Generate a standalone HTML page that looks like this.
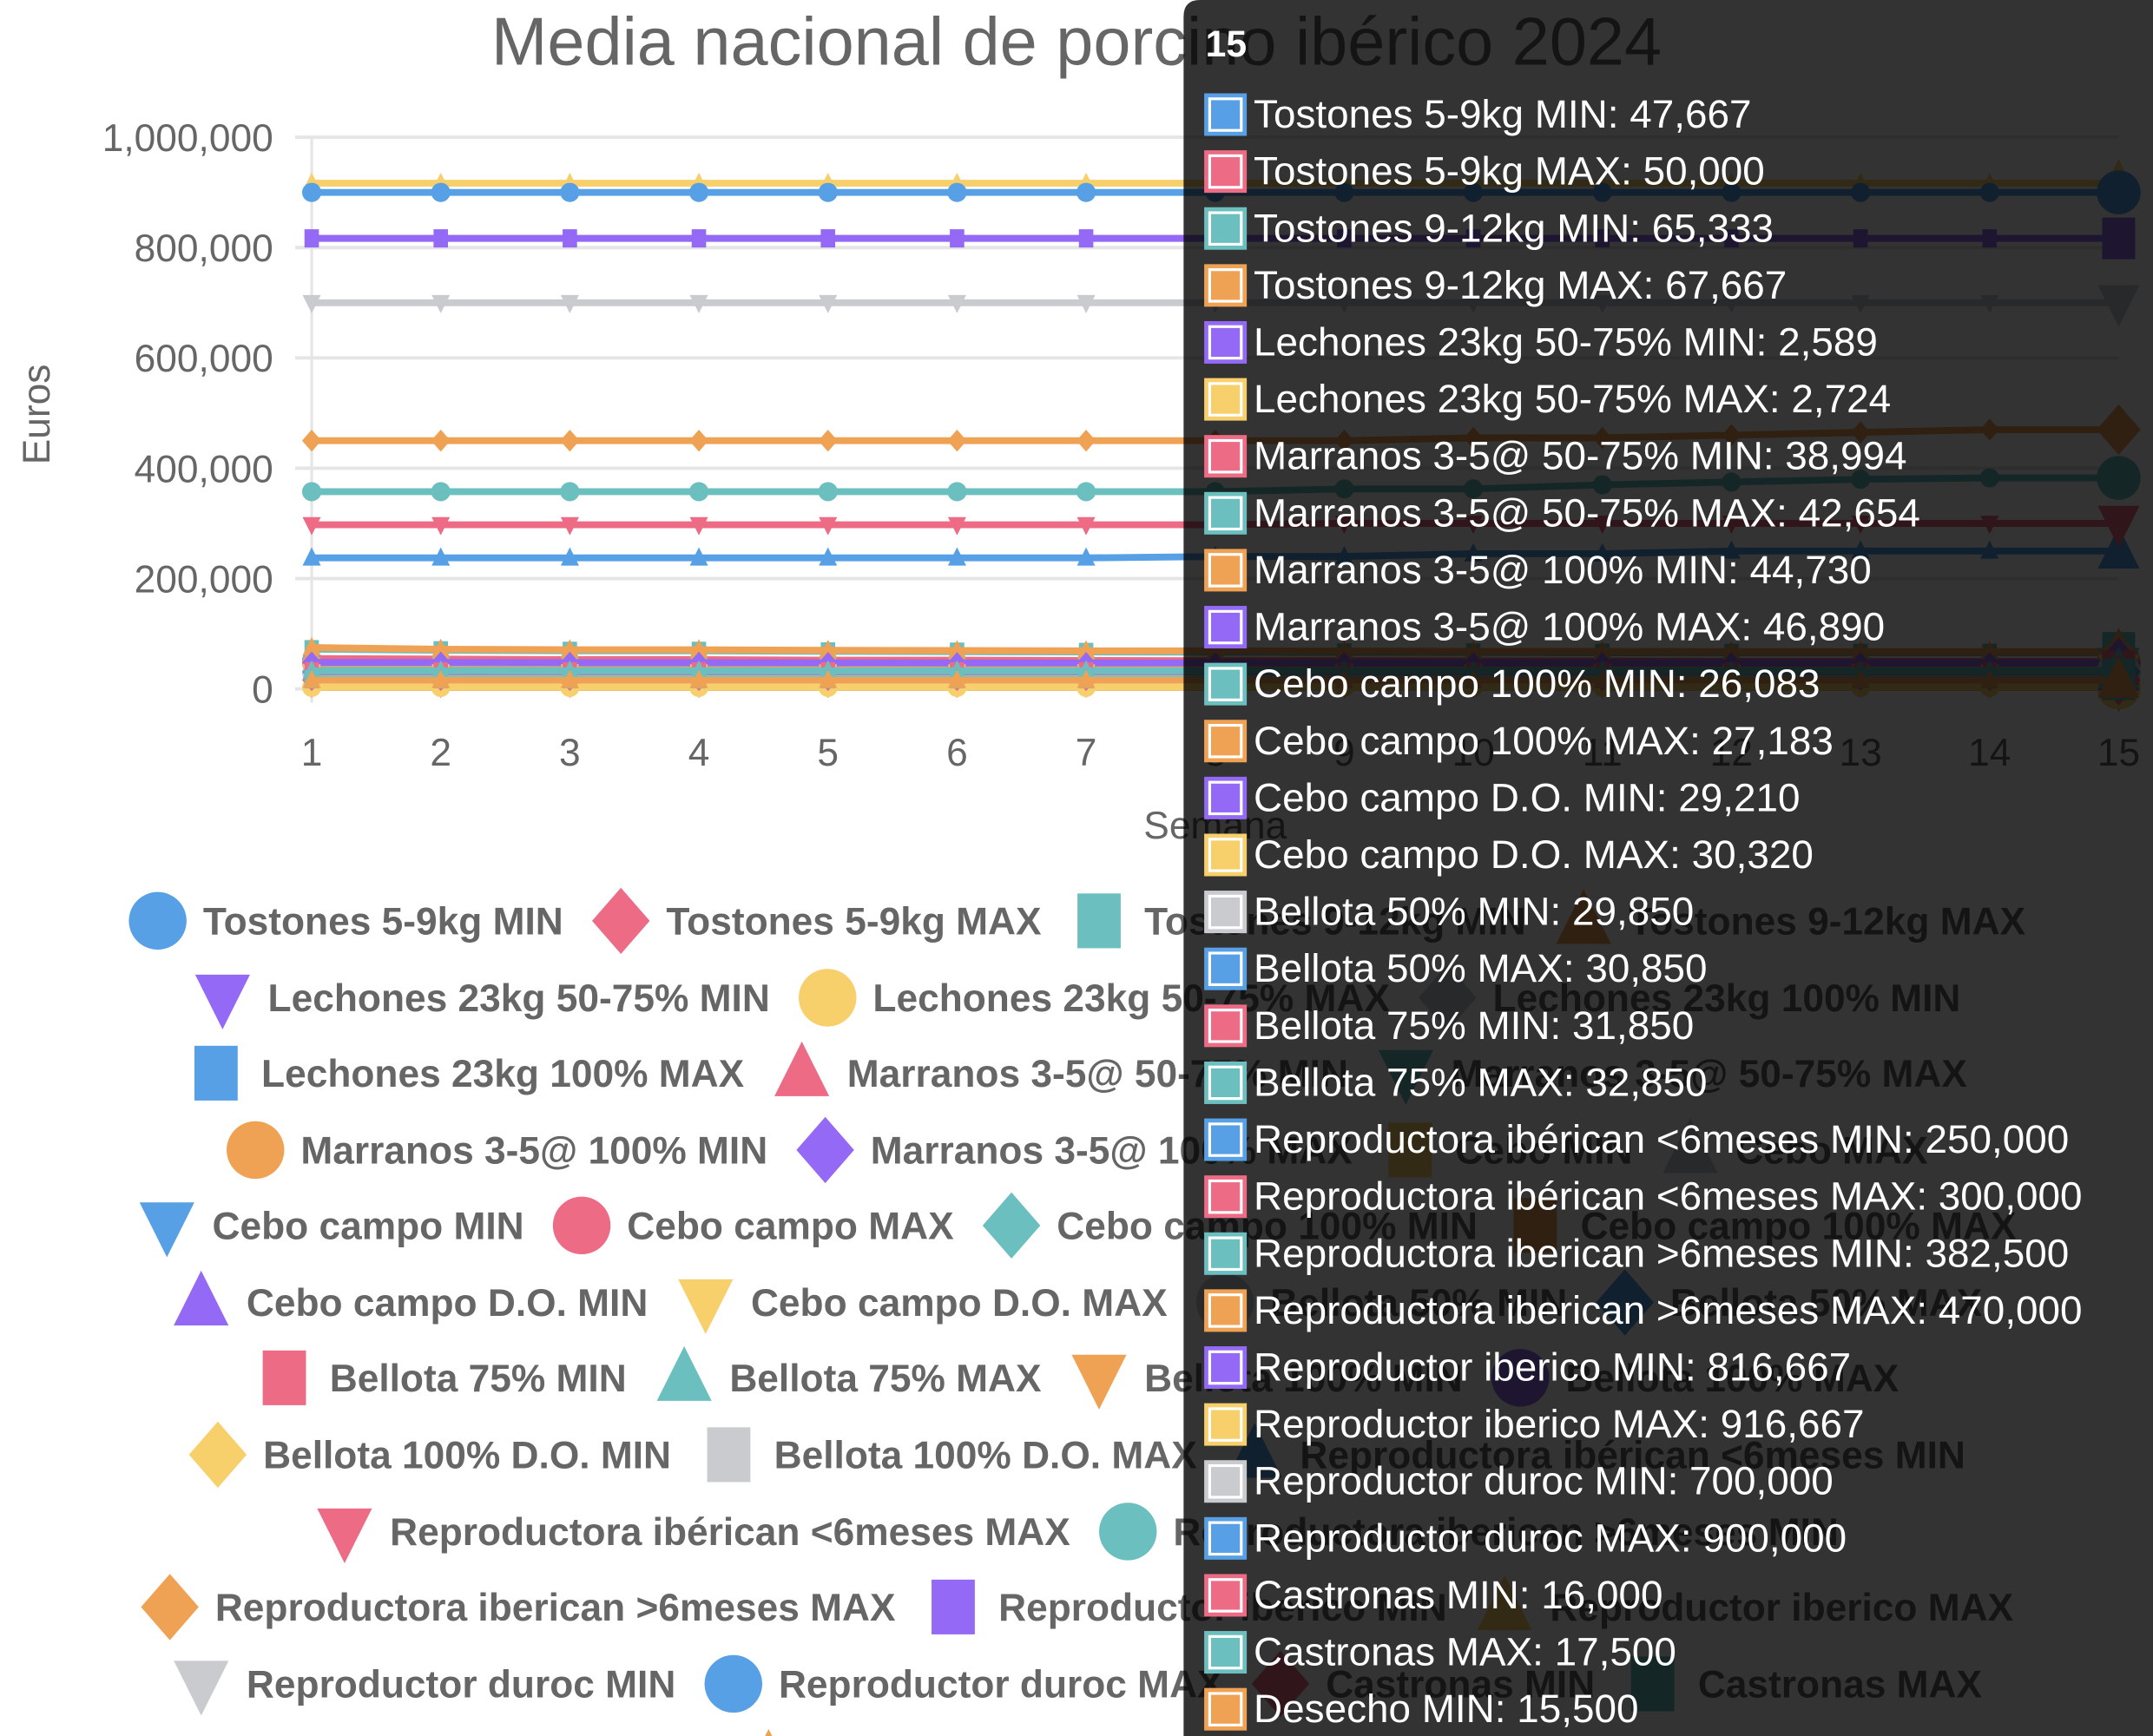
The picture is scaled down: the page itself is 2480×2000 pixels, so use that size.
<!DOCTYPE html>
<html><head><meta charset="utf-8">
<style>
html,body{margin:0;padding:0;background:#fff;}
svg{display:block;font-family:"Liberation Sans",Arial,sans-serif;}
</style></head>
<body>
<svg id="chart" width="2480" height="2000" viewBox="0 0 1568 1265" preserveAspectRatio="none" xmlns="http://www.w3.org/2000/svg">
<rect x="0" y="0" width="1568" height="1265" fill="#fff"/>
<text x="784" y="47" text-anchor="middle" font-size="49" fill="#666">Media nacional de porcino ibérico 2024</text>
<text transform="translate(36,302) rotate(-90)" text-anchor="middle" font-size="28" fill="#666">Euros</text>
<text x="885" y="611" text-anchor="middle" font-size="28" fill="#666">Semana</text>
<g id="grid"></g><g id="series"></g><g id="legend"></g><g id="tooltip"></g>
</svg>
<script>
const weeks = [1,2,3,4,5,6,7,8,9,10,11,12,13,14,15];
const yTicks = [0,200000,400000,600000,800000,1000000];
const yTickLabels = ["0","200,000","400,000","600,000","800,000","1,000,000"];
const seriesNames = ["Tostones 5-9kg MIN","Tostones 5-9kg MAX","Tostones 9-12kg MIN","Tostones 9-12kg MAX","Lechones 23kg 50-75% MIN","Lechones 23kg 50-75% MAX","Lechones 23kg 100% MIN","Lechones 23kg 100% MAX","Marranos 3-5@ 50-75% MIN","Marranos 3-5@ 50-75% MAX","Marranos 3-5@ 100% MIN","Marranos 3-5@ 100% MAX","Cebo MIN","Cebo MAX","Cebo campo MIN","Cebo campo MAX","Cebo campo 100% MIN","Cebo campo 100% MAX","Cebo campo D.O. MIN","Cebo campo D.O. MAX","Bellota 50% MIN","Bellota 50% MAX","Bellota 75% MIN","Bellota 75% MAX","Bellota 100% MIN","Bellota 100% MAX","Bellota 100% D.O. MIN","Bellota 100% D.O. MAX","Reproductora ibérican  <6meses MIN","Reproductora ibérican  <6meses MAX","Reproductora iberican  >6meses MIN","Reproductora iberican  >6meses MAX","Reproductor iberico MIN","Reproductor iberico MAX","Reproductor duroc MIN","Reproductor duroc MAX","Castronas MIN","Castronas MAX","Desecho MIN","Desecho MAX"];
const s00=[52000,51000,50000,50000,49500,49000,49000,48500,48500,48000,48000,47667,47667,47667,47667];
const s01=[55000,54000,53000,53000,52000,52000,51500,51000,51000,50500,50500,50000,50000,50000,50000];
const s02=[72000,70000,69000,69000,68000,67500,67000,66500,66000,66000,65500,65333,65333,65333,65333];
const s03=[75000,72000,71000,71000,70000,69500,69000,69000,68500,68000,68000,67667,67667,67667,67667];
const s04=[2600,2600,2600,2600,2600,2600,2600,2600,2600,2589,2589,2589,2589,2589,2589];
const s05=[2750,2750,2750,2750,2730,2730,2730,2730,2724,2724,2724,2724,2724,2724,2724];
const s06=[null,null,null,null,null,null,null,null,null,null,null,null,null,null,null];
const s07=[null,null,null,null,null,null,null,null,null,null,null,null,null,null,null];
const s08=[40000,40000,39500,39500,39500,39000,39000,39000,39000,38994,38994,38994,38994,38994,38994];
const s09=[44000,44000,43500,43500,43000,43000,43000,42800,42700,42654,42654,42654,42654,42654,42654];
const s10=[46000,46000,45500,45500,45000,45000,45000,44900,44800,44730,44730,44730,44730,44730,44730];
const s11=[48000,48000,47500,47500,47200,47000,47000,46950,46900,46890,46890,46890,46890,46890,46890];
const s12=[null,null,null,null,null,null,null,null,null,null,null,null,null,null,null];
const s13=[null,null,null,null,null,null,null,null,null,null,null,null,null,null,null];
const s14=[null,null,null,null,null,null,null,null,null,null,null,null,null,null,null];
const s15=[null,null,null,null,null,null,null,null,null,null,null,null,null,null,null];
const s16=[26500,26500,26400,26400,26300,26300,26200,26200,26100,26083,26083,26083,26083,26083,26083];
const s17=[27600,27600,27500,27500,27400,27400,27300,27300,27200,27183,27183,27183,27183,27183,27183];
const s18=[29500,29500,29400,29400,29300,29300,29300,29250,29210,29210,29210,29210,29210,29210,29210];
const s19=[30600,30600,30500,30500,30400,30400,30400,30350,30320,30320,30320,30320,30320,30320,30320];
const s20=[29850,29850,29850,29850,29850,29850,29850,29850,29850,29850,29850,29850,29850,29850,29850];
const s21=[30850,30850,30850,30850,30850,30850,30850,30850,30850,30850,30850,30850,30850,30850,30850];
const s22=[31850,31850,31850,31850,31850,31850,31850,31850,31850,31850,31850,31850,31850,31850,31850];
const s23=[32850,32850,32850,32850,32850,32850,32850,32850,32850,32850,32850,32850,32850,32850,32850];
const s24=[null,null,null,null,null,null,null,null,null,null,null,null,null,null,null];
const s25=[null,null,null,null,null,null,null,null,null,null,null,null,null,null,null];
const s26=[null,null,null,null,null,null,null,null,null,null,null,null,null,null,null];
const s27=[null,null,null,null,null,null,null,null,null,null,null,null,null,null,null];
const s28=[237500,237500,237500,237500,237500,237500,237500,240000,240000,245000,245000,250000,250000,250000,250000];
const s29=[297500,297500,297500,297500,297500,297500,297500,297500,300000,300000,300000,300000,300000,300000,300000];
const s30=[357500,357500,357500,357500,357500,357500,357500,357500,362500,362500,370000,375000,380000,382500,382500];
const s31=[450000,450000,450000,450000,450000,450000,450000,450000,450000,455000,455000,460000,465000,470000,470000];
const s32=[816667,816667,816667,816667,816667,816667,816667,816667,816667,816667,816667,816667,816667,816667,816667];
const s33=[916667,916667,916667,916667,916667,916667,916667,916667,916667,916667,916667,916667,916667,916667,916667];
const s34=[700000,700000,700000,700000,700000,700000,700000,700000,700000,700000,700000,700000,700000,700000,700000];
const s35=[900000,900000,900000,900000,900000,900000,900000,900000,900000,900000,900000,900000,900000,900000,900000];
const s36=[16000,16000,16000,16000,16000,16000,16000,16000,16000,16000,16000,16000,16000,16000,16000];
const s37=[17500,17500,17500,17500,17500,17500,17500,17500,17500,17500,17500,17500,17500,17500,17500];
const s38=[15500,15500,15500,15500,15500,15500,15500,15500,15500,15500,15500,15500,15500,15500,15500];
const s39=[null,null,null,null,null,null,null,null,null,null,null,null,null,null,null];
const seriesValues=[s00,s01,s02,s03,s04,s05,s06,s07,s08,s09,s10,s11,s12,s13,s14,s15,s16,s17,s18,s19,s20,s21,s22,s23,s24,s25,s26,s27,s28,s29,s30,s31,s32,s33,s34,s35,s36,s37,s38,s39];
const tooltipIndex = 14;

const NS="http://www.w3.org/2000/svg";
const colors=["#57a0e5","#ed6b85","#6cbfbf","#f0a254","#9469f5","#f7cf6b","#c9cbcf"];
const shapes=["circle","diamond","square","triangle","invtri"];
const X0=227,X1=1543,Y0=502,Y1=100;
function xScale(w){return X0+(w-1)*(X1-X0)/14;}
function yScale(v){return Y0-(v/1000000)*(Y0-Y1);}
function mk(tag,attrs,parent){const e=document.createElementNS(NS,tag);for(const k in attrs)e.setAttribute(k,attrs[k]);parent.appendChild(e);return e;}
function marker(shape,cx,cy,r,fill,parent){
  let e;
  if(shape==="circle") e=mk("circle",{cx:cx,cy:cy,r:r,fill:fill},parent);
  else if(shape==="diamond") e=mk("polygon",{points:`${cx},${cy-r*1.15} ${cx+r},${cy} ${cx},${cy+r*1.15} ${cx-r},${cy}`,fill:fill},parent);
  else if(shape==="square") e=mk("rect",{x:cx-r*0.75,y:cy-r*0.95,width:r*1.5,height:r*1.9,fill:fill},parent);
  else if(shape==="triangle") e=mk("polygon",{points:`${cx},${cy-r*1.1} ${cx+r*0.95},${cy+r*0.8} ${cx-r*0.95},${cy+r*0.8}`,fill:fill},parent);
  else e=mk("polygon",{points:`${cx-r*0.95},${cy-r*0.8} ${cx+r*0.95},${cy-r*0.8} ${cx},${cy+r*1.1}`,fill:fill},parent);
  return e;
}
// grid
const grid=document.getElementById("grid");
yTicks.forEach((t,i)=>{
  const y=yScale(t);
  const gl=mk("line",{x1:215,x2:1543,y1:y,y2:y,stroke:"#e5e5e5","stroke-width":2.5},grid);
  
  
  const tl=mk("text",{x:199,y:y+10,"text-anchor":"end","font-size":28,fill:"#666"},grid);
  tl.textContent=yTickLabels[i];
  
  
});
const ax=mk("line",{x1:X0,x2:X0,y1:Y1,y2:Y0+10,stroke:"#e5e5e5","stroke-width":2},grid);


weeks.forEach(w=>{
  const t=mk("text",{x:xScale(w),y:558,"text-anchor":"middle","font-size":28,fill:"#666"},grid);
  t.textContent=String(w);
  
  
});
// series
const sg=document.getElementById("series");
seriesValues.forEach((vals,i)=>{
  const col=colors[i%7],shp=shapes[i%5];
  const g=mk("g",{},sg);
  
  
  const pts=[];
  vals.forEach((v,j)=>{if(v!==null)pts.push([xScale(weeks[j]),yScale(v)]);});
  if(pts.length){
    const ln=mk("polyline",{points:pts.map(p=>p.join(",")).join(" "),fill:"none",stroke:col,"stroke-width":5,"stroke-linejoin":"round"},g);
    
    
  }
  vals.forEach((v,j)=>{
    if(v===null)return;
    const big=(j===tooltipIndex);
    const m=marker(shp,xScale(weeks[j]),yScale(v),big?16:7,col,g);
    
    
  });
});
// legend
const lg=document.getElementById("legend");
const rows=[[0,1,2,3],[4,5,6],[7,8,9],[10,11,12,13],[14,15,16,17],[18,19,20,21],[22,23,24,25],[26,27,28],[29,30],[31,32,33],[34,35,36,37],[38,39]];
const rowY=[671,727,782,838,893,949,1004,1060,1116,1171,1227,1283];
rows.forEach((row,ri)=>{
  const cy=rowY[ri];
  const items=[];
  let total=0;
  row.forEach(i=>{
    const g=mk("g",{},lg);
    
    
    const t=mk("text",{x:0,y:cy+10,"font-size":28,"font-weight":"bold",fill:"#666"},g);
    t.textContent=seriesNames[i];
    
    
    const w=t.getComputedTextLength();
    items.push({g,t,w,i});
    total+=45+10+w;
  });
  total+=20*(row.length-1);
  let x=784-total/2;
  items.forEach(it=>{
    const m=marker(shapes[it.i%5],x+22,cy,21,colors[it.i%7],it.g);
    
    
    it.t.setAttribute("x",x+55);
    x+=55+it.w+20;
  });
});
// tooltip
const tg=document.getElementById("tooltip");
const tb=mk("path",{d:"M862,1265 L862,12 Q862,0 874,0 L1568,0 L1568,1265 Z",fill:"rgba(0,0,0,0.8)"},tg);


const tt=mk("text",{x:878,y:41,"font-size":27,"font-weight":"bold",fill:"#fff"},tg);
tt.textContent=String(weeks[tooltipIndex]);


let k=0;
seriesValues.forEach((vals,i)=>{
  const v=vals[tooltipIndex];
  if(v===null)return;
  const cy=83+k*41.5;k++;
  const g=mk("g",{},tg);
  
  
  mk("rect",{x:877,y:cy-15,width:31,height:31,fill:colors[i%7]},g);
  mk("rect",{x:881,y:cy-11,width:23,height:23,fill:"none",stroke:"#fff","stroke-width":2},g);
  const t=mk("text",{x:913,y:cy+10,"font-size":29,fill:"#fff"},g);
  t.textContent=seriesNames[i]+": "+v.toLocaleString("en-US");
});
</script>
</body></html>
